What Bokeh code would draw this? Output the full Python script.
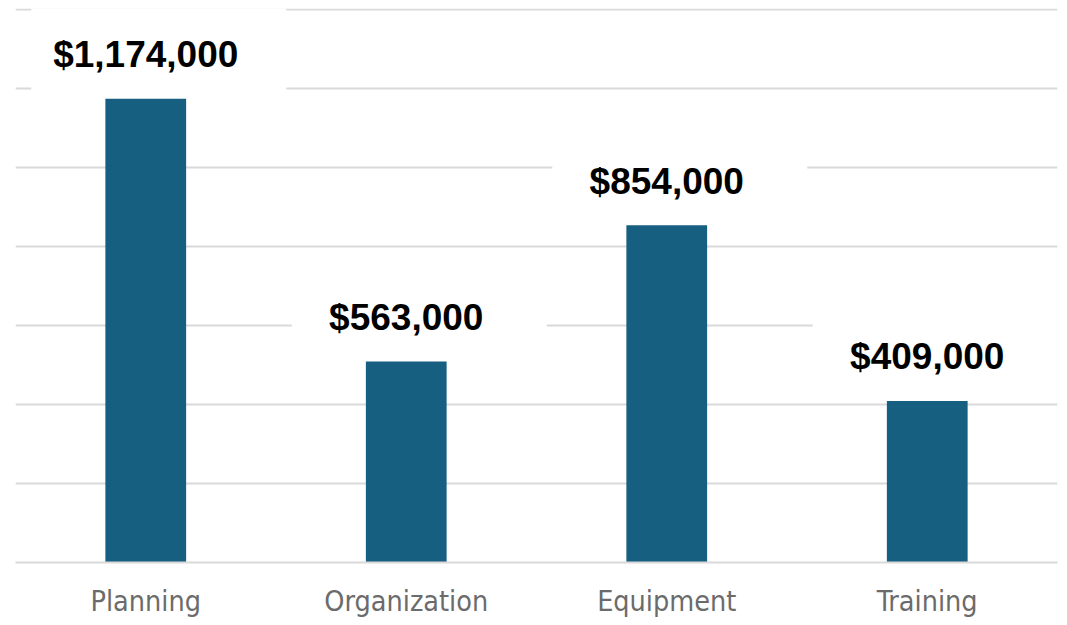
from bokeh.plotting import figure
from bokeh.models import ColumnDataSource, FixedTicker, Range1d
from bokeh.transform import dodge
from bokeh.core.properties import value
from bokeh.embed import file_html
from bokeh.resources import INLINE

# ---- data ----
categories = ["Planning", "Organization", "Equipment", "Training"]
bar_values = [1174000, 509000, 854000, 409000]   # bar heights as drawn
label_texts = ["$1,174,000", "$563,000", "$854,000", "$409,000"]
grid_ticks = [0, 200000, 400000, 600000, 800000, 1000000, 1200000, 1400000]

# ---- layout ----
W, H = 1060, 620
top_pad = 8
frame_h = 555
y_end = 1402500
px_per_unit = frame_h / y_end
label_px = 44          # text centre above bar top
box_px = 49            # box centre above bar top

src = ColumnDataSource(dict(
    cat=categories,
    val=bar_values,
    txt=label_texts,
    box_y=[v + box_px / px_per_unit for v in bar_values],
))

p = figure(x_range=categories, y_range=Range1d(0, y_end),
           width=W, height=H, output_backend="svg", toolbar_location=None,
           min_border_left=15, min_border_right=3, min_border_top=top_pad,
           min_border_bottom=H - frame_h - top_pad)
p.outline_line_color = None
p.background_fill_color = "white"
p.border_fill_color = "white"

p.yaxis.visible = False
p.xgrid.grid_line_color = None
p.ygrid.ticker = FixedTicker(ticks=grid_ticks)
p.ygrid.grid_line_color = "#d9d9d9"
p.ygrid.grid_line_width = 2

p.xaxis.axis_line_color = "#d9d9d9"
p.xaxis.axis_line_width = 2
p.xaxis.major_tick_line_color = None
p.xaxis.minor_tick_line_color = None
p.xaxis.major_label_text_font = "DejaVu Sans Condensed"
p.xaxis.major_label_text_font_size = "28.5px"
p.xaxis.major_label_text_color = "#6b6b6b"
p.xaxis.major_label_standoff = 16
p.x_range.range_padding = 0

p.vbar(x="cat", top="val", width=0.31, source=src,
       fill_color="#175F80", line_color=None)

p.rect(x=dodge("cat", 0.05, range=p.x_range), y="box_y", width=255, height=86,
       width_units="screen", height_units="screen", source=src,
       fill_color="white", line_color=None)

p.text(x="cat", y="val", text="txt", source=src, y_offset=-label_px,
       text_align="center", text_baseline="middle",
       text_font=value("Liberation Sans"), text_font_style="bold",
       text_font_size="37px", text_color="black")

open("out.html", "w").write(file_html(p, INLINE))
